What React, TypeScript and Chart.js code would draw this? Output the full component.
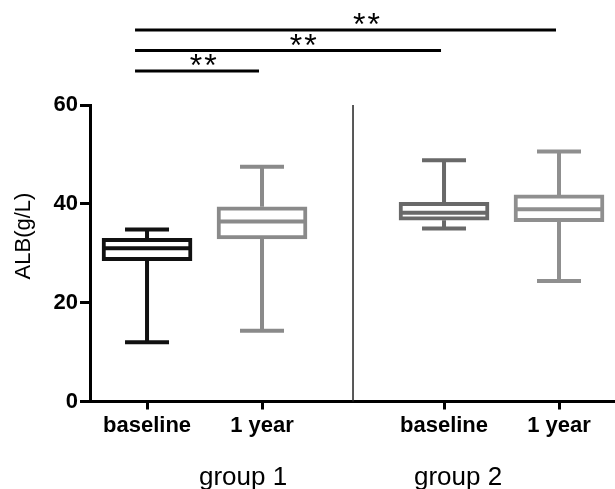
import { useEffect, useRef } from 'react';
import { Chart, registerables } from 'chart.js';

Chart.register(...registerables);

// ---------- data ----------
const groups = ['group 1', 'group 2'];
const conditions = ['baseline', '1 year'];
const yTicks = [0, 20, 40, 60];
const whiskerMin = [12.0, 14.3, 35.0, 24.4];
const q1 = [28.5, 32.9, 36.7, 36.4];
const median = [31.0, 36.4, 38.2, 38.9];
const q3 = [33.0, 39.4, 40.3, 41.8];
const whiskerMax = [34.8, 47.5, 48.8, 50.6];
const compFrom = [0, 0, 0];
const compTo = [1, 2, 3];
const compLabel = ['**', '**', '**'];
const yTitle = 'ALB(g/L)';

// ---------- layout / style ----------
const W = 615;
const H = 489;
const GROUP_STEP = 2.583; // distance (in category units) between first boxes of consecutive groups
const X_MIN = -0.496;
const X_MAX = 4.07;
const FONT = "'Liberation Sans', Arial, Helvetica, sans-serif";
const boxColors = ['#111111', '#8a8a8a', '#696969', '#8f8f8f'];
const LINE_W = 4;
const CAP_W = 44;
const BOX_W = 90;

const tickLabels: string[] = [];
const positions: number[] = [];
groups.forEach((_, g) => {
  conditions.forEach((c, i) => {
    tickLabels.push(c);
    positions.push(g * GROUP_STEP + i);
  });
});

const boxPlugin = {
  id: 'boxWhiskers',
  afterDatasetsDraw(chart: any) {
    const { ctx, scales } = chart;
    const xs = scales.x;
    const ys = scales.y;
    ctx.save();
    ctx.lineWidth = LINE_W;
    ctx.lineCap = 'butt';
    positions.forEach((p, i) => {
      const cx = xs.getPixelForValue(p);
      ctx.strokeStyle = boxColors[i];
      const yMin = ys.getPixelForValue(whiskerMin[i]);
      const yMax = ys.getPixelForValue(whiskerMax[i]);
      const yQ1 = ys.getPixelForValue(q1[i]);
      const yQ3 = ys.getPixelForValue(q3[i]);
      const yMed = ys.getPixelForValue(median[i]);
      ctx.beginPath();
      ctx.moveTo(cx, yQ3);
      ctx.lineTo(cx, yMax);
      ctx.moveTo(cx, yQ1);
      ctx.lineTo(cx, yMin);
      ctx.moveTo(cx - CAP_W / 2, yMax);
      ctx.lineTo(cx + CAP_W / 2, yMax);
      ctx.moveTo(cx - CAP_W / 2, yMin);
      ctx.lineTo(cx + CAP_W / 2, yMin);
      ctx.moveTo(cx - BOX_W / 2 + 2, yMed);
      ctx.lineTo(cx + BOX_W / 2 - 2, yMed);
      ctx.stroke();
    });
    ctx.restore();
  },
};

const decorPlugin = {
  id: 'decor',
  afterDraw(chart: any) {
    const { ctx, scales, chartArea } = chart;
    const xs = scales.x;
    ctx.save();
    const sep = (xs.getPixelForValue(positions[1]) + xs.getPixelForValue(positions[2])) / 2;
    ctx.strokeStyle = '#222';
    ctx.lineWidth = 1.5;
    ctx.beginPath();
    ctx.moveTo(sep, chartArea.top);
    ctx.lineTo(sep, chartArea.bottom);
    ctx.stroke();

    ctx.fillStyle = '#000';
    ctx.font = `26px ${FONT}`;
    ctx.textAlign = 'center';
    ctx.textBaseline = 'alphabetic';
    ctx.fillText(groups[0], sep - 110, 485);
    ctx.fillText(groups[1], sep + 105, 485);

    ctx.save();
    ctx.translate(24, 236);
    ctx.rotate(-Math.PI / 2);
    ctx.font = `22px ${FONT}`;
    ctx.textBaseline = 'middle';
    ctx.fillText(yTitle, 0, 0);
    ctx.restore();

    ctx.lineWidth = 3;
    ctx.strokeStyle = '#000';
    ctx.font = `32px ${FONT}`;
    ctx.textAlign = 'center';
    ctx.textBaseline = 'alphabetic';
    (ctx as any).letterSpacing = '2px';
    compFrom.forEach((f, k) => {
      const y = 71 - k * 20.5;
      const x1 = xs.getPixelForValue(positions[f]) - 12;
      const x2 = xs.getPixelForValue(positions[compTo[k]]) - 3;
      ctx.beginPath();
      ctx.moveTo(x1, y);
      ctx.lineTo(x2, y);
      ctx.stroke();
      ctx.fillText(compLabel[k], x1 + (x2 - x1) * 0.55 + 1, y + 5);
    });
    ctx.restore();
  },
};

export default function App() {
  const ref = useRef<HTMLCanvasElement | null>(null);
  useEffect(() => {
    document.body.style.margin = '0';
    const canvas = ref.current;
    if (!canvas) return;
    const chart = new Chart(canvas, {
      type: 'bar',
      data: {
        datasets: [
          {
            data: positions.map((x, i) => ({ x, y: [q1[i], q3[i]] })) as any,
            backgroundColor: '#ffffff',
            borderColor: boxColors,
            borderWidth: LINE_W,
            borderSkipped: false,
            barThickness: BOX_W,
          },
        ],
      },
      options: {
        animation: false,
        responsive: false,
        layout: { padding: { top: 105, left: 0, right: 0, bottom: 0 } },
        plugins: { legend: { display: false }, tooltip: { enabled: false } },
        scales: {
          x: {
            type: 'linear',
            min: X_MIN,
            max: X_MAX,
            offset: false,
            afterBuildTicks: (scale: any) => {
              scale.ticks = positions.map((v) => ({ value: v }));
            },
            afterFit: (scale: any) => {
              scale.height = 87.5;
            },
            ticks: {
              autoSkip: false,
              maxRotation: 0,
              color: '#000',
              padding: 3,
              font: { family: FONT, size: 22, weight: 'bold' },
              callback: (_v: any, i: number) => tickLabels[i],
            },
            grid: {
              offset: false,
              drawOnChartArea: false,
              drawTicks: true,
              tickLength: 8,
              lineWidth: 3,
              tickWidth: 3,
              tickColor: '#000',
              color: '#000',
            },
            border: { display: true, color: '#000', width: 3 },
          },
          y: {
            min: 0,
            max: 60,
            afterBuildTicks: (scale: any) => {
              scale.ticks = yTicks.map((v) => ({ value: v }));
            },
            afterFit: (scale: any) => {
              scale.width = 90;
            },
            ticks: {
              color: '#000',
              padding: 2,
              font: { family: FONT, size: 22, weight: 'bold' },
            },
            grid: {
              drawOnChartArea: false,
              drawTicks: true,
              tickLength: 10,
              lineWidth: 3,
              tickWidth: 3,
              tickColor: '#000',
              color: '#000',
            },
            border: { display: true, color: '#000', width: 3 },
          },
        },
      } as any,
      plugins: [boxPlugin, decorPlugin],
    });
    return () => chart.destroy();
  }, []);
  return (
    <div style={{ width: W, height: H, position: 'relative', background: '#fff' }}>
      <canvas ref={ref} width={W} height={H} style={{ display: 'block' }} />
    </div>
  );
}
